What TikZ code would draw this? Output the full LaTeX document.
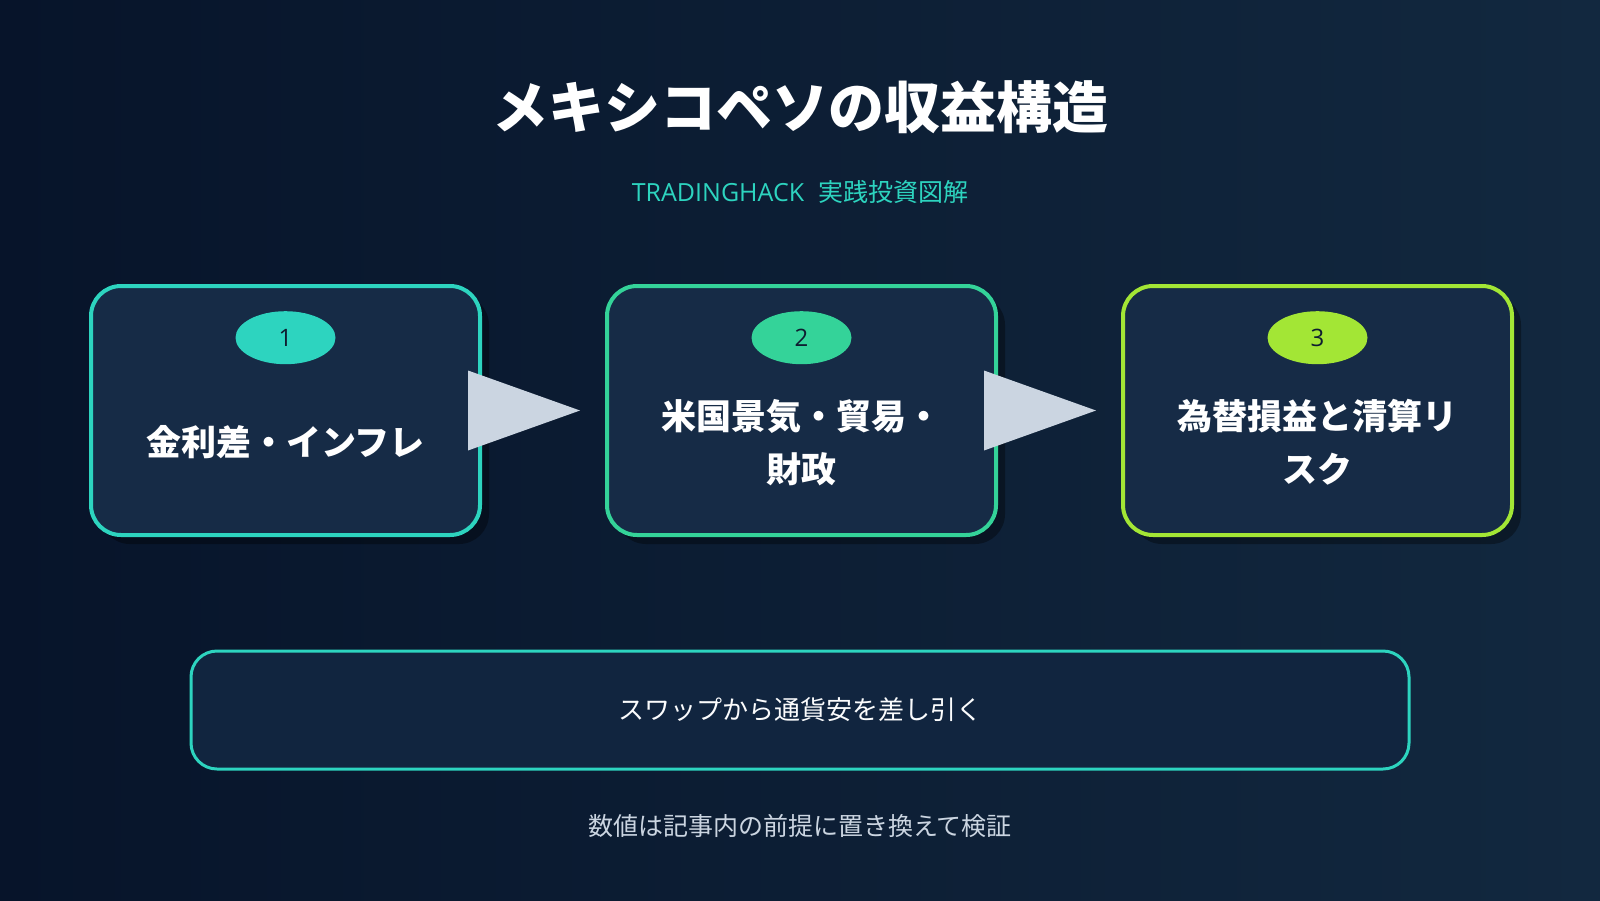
\documentclass[tikz,border=0pt]{standalone}
\usepackage{fontspec}
\setmainfont{Noto Sans CJK JP}
\newfontfamily\latinfont{Open Sans}
\usetikzlibrary{positioning,calc,shapes.geometric,shadows}

\definecolor{bgdark}{HTML}{07142A}
\definecolor{bglight}{HTML}{12283F}
\definecolor{cardfill}{HTML}{162B46}
\definecolor{panelfill}{HTML}{11253F}
\definecolor{tealone}{HTML}{2DD4BF}
\definecolor{greentwo}{HTML}{34D399}
\definecolor{limethree}{HTML}{A3E635}
\definecolor{arrowgray}{HTML}{CBD5E1}
\definecolor{notegray}{HTML}{CBD5E1}
\definecolor{badgetext}{HTML}{0F1D30}

\begin{document}
\begin{tikzpicture}[x=1pt, y=-1pt, node distance=123pt,
  card/.style={draw, line width=4pt, rounded corners=30pt, fill=cardfill, minimum width=389pt, minimum height=249pt,
    drop shadow={shadow xshift=9pt, shadow yshift=-9pt, fill=black, opacity=0.35}},
  badge/.style={ellipse, minimum width=100pt, minimum height=53pt, inner sep=0pt, text=badgetext, font=\fontsize{24}{28}\selectfont\latinfont},
  cardtext/.style={text=white, align=center, font=\fontsize{35}{53}\selectfont\bfseries},
  arrowtri/.style={fill=arrowgray}]
  % background
  \shade[left color=bgdark, right color=bglight] (0,0) rectangle (1600,900);
  \useasboundingbox (0,0) rectangle (1600,900);

  \node[text=white, font=\fontsize{56}{64}\selectfont\bfseries] (title) at (800,107) {メキシコペソの収益構造};
  \node[text=tealone, font=\fontsize{25}{28}\selectfont] (sub) at (800,192) {{\latinfont TRADINGHACK}\hspace{14pt}実践投資図解};

  % three steps
  \node[card, draw=tealone] (b1) at (285.5,410.5) {};
  \node[card, draw=greentwo, right=of b1] (b2) {};
  \node[card, draw=limethree, right=of b2] (b3) {};

  \node[badge, fill=tealone, below=27pt of b1.north] (n1) {1};
  \node[badge, fill=greentwo, below=27pt of b2.north] (n2) {2};
  \node[badge, fill=limethree, below=27pt of b3.north] (n3) {3};

  \node[cardtext] (t1) at ($(b1.center)+(0,32)$) {金利差・インフレ};
  \node[cardtext] (t2) at ($(b2.center)+(0,32)$) {米国景気・貿易・\\財政};
  \node[cardtext] (t3) at ($(b3.center)+(0,32)$) {為替損益と清算リ\\スク};

  \fill[arrowtri] ($(b1.east)+(-14,-40)$) -- ($(b1.east)+(98,0)$) -- ($(b1.east)+(-14,40)$) -- cycle;
  \fill[arrowtri] ($(b2.east)+(-14,-40)$) -- ($(b2.east)+(98,0)$) -- ($(b2.east)+(-14,40)$) -- cycle;

  % summary panel
  \node[draw=tealone, line width=3pt, rounded corners=26pt, fill=panelfill, minimum width=1218pt, minimum height=118pt,
    text=white!92!notegray, font=\fontsize{26}{30}\selectfont] (sum) at (800,710) {スワップから通貨安を差し引く};

  \node[text=notegray, font=\fontsize{25}{30}\selectfont] (note) at (800,826) {数値は記事内の前提に置き換えて検証};
\end{tikzpicture}
\end{document}
